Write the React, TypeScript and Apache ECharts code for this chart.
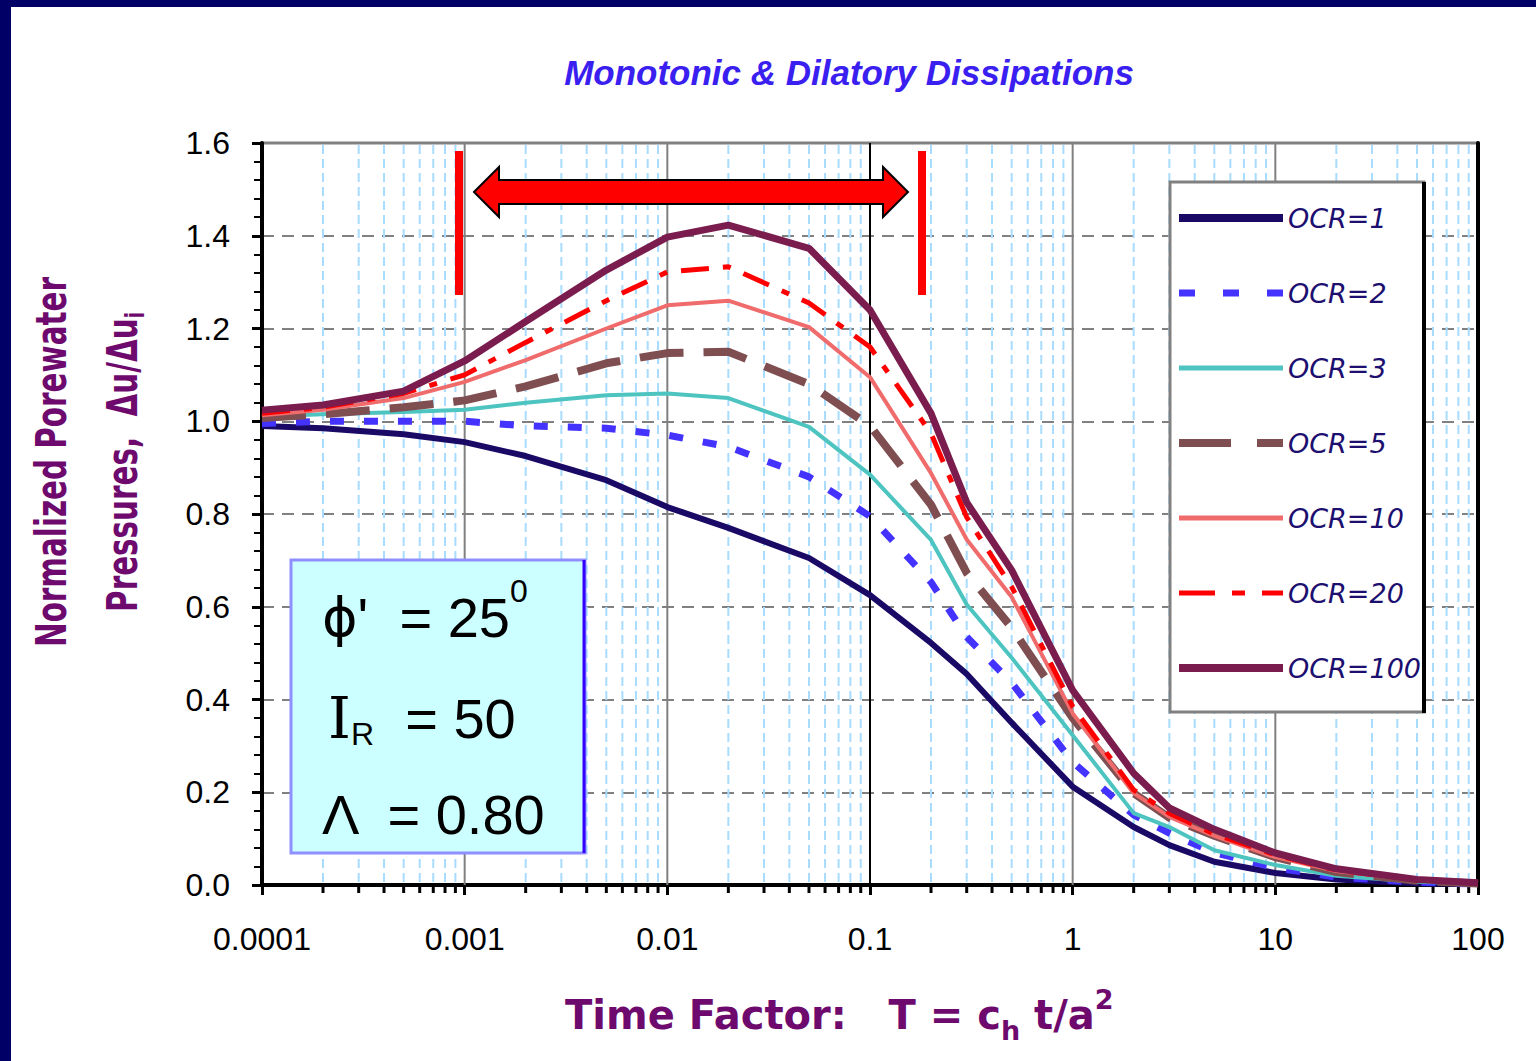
import React, { useEffect, useRef } from "react";
import * as echarts from "echarts";

// ---- data ----
const timeFactor = [0.0001, 0.0002, 0.0005, 0.001, 0.002, 0.005, 0.01, 0.02, 0.05, 0.1, 0.2, 0.3, 0.5, 1, 2, 3, 5, 10, 20, 50, 100];
const ocr1 = [0.99, 0.985, 0.972, 0.955, 0.925, 0.873, 0.815, 0.77, 0.705, 0.625, 0.522, 0.455, 0.35, 0.212, 0.125, 0.086, 0.05, 0.026, 0.012, 0.004, 0.002];
const ocr2 = [0.995, 1.0, 1.0, 1.0, 0.99, 0.985, 0.97, 0.945, 0.88, 0.795, 0.653, 0.535, 0.436, 0.265, 0.151, 0.112, 0.07, 0.037, 0.017, 0.006, 0.002];
const ocr3 = [1.01, 1.015, 1.02, 1.025, 1.04, 1.056, 1.06, 1.05, 0.988, 0.885, 0.744, 0.605, 0.49, 0.323, 0.155, 0.125, 0.075, 0.043, 0.02, 0.007, 0.003];
const ocr5 = [1.007, 1.015, 1.03, 1.045, 1.075, 1.125, 1.147, 1.15, 1.08, 0.99, 0.82, 0.673, 0.555, 0.36, 0.198, 0.145, 0.106, 0.06, 0.028, 0.009, 0.003];
const ocr10 = [1.013, 1.025, 1.05, 1.085, 1.132, 1.2, 1.25, 1.26, 1.203, 1.095, 0.888, 0.745, 0.621, 0.37, 0.198, 0.147, 0.106, 0.06, 0.03, 0.01, 0.004];
const ocr20 = [1.017, 1.03, 1.06, 1.1, 1.17, 1.26, 1.322, 1.333, 1.255, 1.16, 0.974, 0.793, 0.643, 0.385, 0.205, 0.155, 0.11, 0.065, 0.032, 0.011, 0.004];
const ocr100 = [1.024, 1.035, 1.065, 1.13, 1.215, 1.326, 1.397, 1.423, 1.373, 1.24, 1.017, 0.825, 0.679, 0.42, 0.241, 0.166, 0.12, 0.069, 0.035, 0.012, 0.005];

const seriesNames = ["OCR=1", "OCR=2", "OCR=3", "OCR=5", "OCR=10", "OCR=20", "OCR=100"];
const seriesValues = [ocr1, ocr2, ocr3, ocr5, ocr10, ocr20, ocr100];

const xTickLabels = ["0.0001", "0.001", "0.01", "0.1", "1", "10", "100"];
const majorDecadeLines = [0.001, 0.01, 0.1, 1, 10];
const decadeStarts = [0.0001, 0.001, 0.01, 0.1, 1, 10];
const minorMultipliers = [2, 3, 4, 5, 6, 7, 8, 9];

// ---- styles ----
const seriesStyles = [
  { color: "#1a0a66", width: 6, type: "solid" as any },
  { color: "#4433ff", width: 7, type: [14, 20] as any },
  { color: "#4dc4c0", width: 4, type: "solid" as any },
  { color: "#7f4e50", width: 8, type: [44, 20] as any },
  { color: "#f06b6b", width: 4, type: "solid" as any },
  { color: "#ff0000", width: 5, type: [28, 14, 8, 14] as any },
  { color: "#7a1c4e", width: 7, type: "solid" as any },
];
const legendLineStyles = [
  { color: "#1a0a66", width: 8, type: "solid" as any },
  { color: "#4433ff", width: 7, type: [16, 28] as any },
  { color: "#4dc4c0", width: 5, type: "solid" as any },
  { color: "#7f4e50", width: 8, type: [52, 26] as any },
  { color: "#f06b6b", width: 5, type: "solid" as any },
  { color: "#ff0000", width: 5, type: [36, 17, 13, 17] as any },
  { color: "#7a1c4e", width: 8, type: "solid" as any },
];

const purple = "#6e0a6e";

export default function App() {
  const ref = useRef<HTMLDivElement>(null);

  useEffect(() => {
    if (!ref.current) return;
    const chart = echarts.init(ref.current, undefined, { renderer: "svg" });

    const verticalGrid: [number, number][] = [];
    decadeStarts.forEach((d) => minorMultipliers.forEach((m) => verticalGrid.push([d * m, 0])));
    majorDecadeLines.forEach((d) => verticalGrid.push([d, d === 0.1 ? 2 : 1]));

    const option: any = {
      animation: false,
      backgroundColor: "#ffffff",
      grid: {
        left: 262,
        top: 143,
        width: 1216,
        height: 742,
        show: true,
        borderColor: "#808080",
        borderWidth: 3,
        backgroundColor: "transparent",
        outerBoundsMode: "none",
      },
      xAxis: {
        type: "log",
        logBase: 10,
        min: 0.0001,
        max: 100,
        axisLine: { show: true, onZero: false, lineStyle: { color: "#000", width: 4 } },
        axisTick: { show: true, length: 10, lineStyle: { color: "#000", width: 3 } },
        axisLabel: {
          show: true,
          margin: 38,
          fontSize: 32,
          fontFamily: "Liberation Sans",
          color: "#000",
          showMinLabel: true,
          showMaxLabel: true,
          formatter: (v: number) => xTickLabels[Math.round(Math.log10(v)) + 4],
        },
        splitLine: { show: false },
        minorTick: { show: false },
      },
      yAxis: [
        {
          type: "value",
          min: 0,
          max: 1.6,
          interval: 0.2,
          axisLine: { show: true, onZero: false, lineStyle: { color: "#000", width: 4 } },
          axisTick: { show: true, length: 10, lineStyle: { color: "#000", width: 3 } },
          minorTick: { show: true, splitNumber: 5, length: 8, lineStyle: { color: "#000", width: 2 } },
          axisLabel: {
            margin: 32,
            fontSize: 32,
            fontFamily: "Liberation Sans",
            color: "#000",
            formatter: (v: number) => v.toFixed(1),
          },
          splitLine: { show: true, lineStyle: { color: "#808080", width: 2, type: [12, 8] } },
        },
        {
          type: "value",
          min: 0,
          max: 1.6,
          position: "right",
          axisLine: { show: true, onZero: false, lineStyle: { color: "#000", width: 4 } },
          axisTick: { show: false },
          axisLabel: { show: false },
          splitLine: { show: false },
        },
      ],
      legend: {
        orient: "vertical",
        left: 1175,
        top: 203,
        padding: 0,
        itemWidth: 104,
        itemHeight: 14,
        itemGap: 45,
        selectedMode: false,
        z: 20,
        textStyle: {
          fontFamily: "DejaVu Sans",
          fontStyle: "italic",
          fontSize: 27,
          color: "#1c0f70",
          lineHeight: 30,
        },
        itemStyle: { color: "rgba(0,0,0,0)", borderColor: "rgba(0,0,0,0)", borderWidth: 0, opacity: 0 },
        data: seriesNames.map((n, i) => ({ name: n, lineStyle: legendLineStyles[i] })),
      },
      series: [
        {
          type: "custom",
          name: "grid-lines",
          coordinateSystem: "cartesian2d",
          silent: true,
          clip: false,
          z: 1,
          data: verticalGrid,
          renderItem: (_params: any, api: any) => {
            const x = api.value(0);
            const kind = api.value(1);
            const top = api.coord([x, 1.6]);
            const bot = api.coord([x, 0]);
            const children: any[] = [];
            if (kind === 0) {
              children.push({
                type: "line",
                shape: { x1: top[0], y1: top[1] + 2, x2: bot[0], y2: bot[1] - 2 },
                style: { stroke: "#a8dcff", lineWidth: 2, lineDash: [9, 5] },
              });
              children.push({
                type: "line",
                shape: { x1: bot[0], y1: bot[1], x2: bot[0], y2: bot[1] + 8 },
                style: { stroke: "#000", lineWidth: 3 },
              });
            } else {
              children.push({
                type: "line",
                shape: { x1: top[0], y1: top[1], x2: bot[0], y2: bot[1] },
                style: { stroke: kind === 2 ? "#000" : "#808080", lineWidth: 2 },
              });
            }
            return { type: "group", children };
          },
        },
        ...seriesNames.map((n, i) => ({
          type: "line",
          name: n,
          data: timeFactor.map((t, j) => [t, seriesValues[i][j]]),
          symbol: "none",
          showSymbol: false,
          smooth: false,
          z: 3 + i,
          lineStyle: { color: seriesStyles[i].color, width: seriesStyles[i].width, type: seriesStyles[i].type },
          itemStyle: { color: seriesStyles[i].color },
        })),
      ],
      graphic: [
        // page border
        { type: "rect", z: 100, shape: { x: 0, y: 0, width: 11, height: 1061 }, style: { fill: "#000066" } },
        { type: "rect", z: 100, shape: { x: 0, y: 0, width: 1536, height: 7 }, style: { fill: "#000066" } },
        // title
        {
          type: "text",
          z: 50,
          x: 849,
          y: 72,
          style: {
            text: "Monotonic & Dilatory Dissipations",
            fontFamily: "Liberation Sans",
            fontSize: 35,
            fontStyle: "italic",
            fontWeight: "bold",
            fill: "#3a20f0",
            align: "center",
            verticalAlign: "middle",
          },
        },
        // y axis title
        {
          type: "text",
          z: 50,
          x: 52,
          y: 462,
          rotation: Math.PI / 2,
          scaleX: 0.7,
          style: {
            text: "Normalized Porewater",
            fontFamily: "DejaVu Sans",
            fontSize: 42,
            fontWeight: "bold",
            fill: purple,
            align: "center",
            verticalAlign: "middle",
          },
        },
        {
          type: "text",
          z: 50,
          x: 123,
          y: 462,
          rotation: Math.PI / 2,
          scaleX: 0.7,
          style: {
            text: "{b|Pressures,  Δu/Δu}{s|i}",
            fontFamily: "DejaVu Sans",
            fontSize: 42,
            fontWeight: "bold",
            fill: purple,
            align: "center",
            verticalAlign: "middle",
            rich: {
              b: { fontFamily: "DejaVu Sans", fontSize: 42, fontWeight: "bold", fill: purple, lineHeight: 50 },
              s: { fontFamily: "DejaVu Sans", fontSize: 26, fontWeight: "bold", fill: purple, lineHeight: 24, verticalAlign: "bottom" },
            },
          },
        },
        // x axis title
        {
          type: "text",
          z: 50,
          x: 565,
          y: 1015,
          style: {
            text: "{b|Time Factor:   T = c}{s|h}{b| t/a}{p|2}",
            fontFamily: "DejaVu Sans",
            fontSize: 40,
            fontWeight: "bold",
            fill: purple,
            align: "left",
            verticalAlign: "middle",
            rich: {
              b: { fontFamily: "DejaVu Sans", fontSize: 40, fontWeight: "bold", fill: purple, lineHeight: 58 },
              s: { fontFamily: "DejaVu Sans", fontSize: 27, fontWeight: "bold", fill: purple, lineHeight: 24, verticalAlign: "bottom" },
              p: { fontFamily: "DejaVu Sans", fontSize: 27, fontWeight: "bold", fill: purple, lineHeight: 24, verticalAlign: "top" },
            },
          },
        },
        // info box
        {
          type: "rect",
          z: 10,
          shape: { x: 291, y: 560, width: 294, height: 293 },
          style: { fill: "#ccffff", stroke: "#8f8fff", lineWidth: 3 },
        },
        {
          type: "line",
          z: 11,
          shape: { x1: 584, y1: 560, x2: 584, y2: 853 },
          style: { stroke: "#3300ff", lineWidth: 3 },
        },
        {
          type: "text",
          z: 12,
          x: 322,
          y: 617,
          style: {
            text: "{p|ϕ}{b|'  = 25}{s|0}",
            fill: "#000",
            align: "left",
            verticalAlign: "middle",
            rich: {
              p: { fontFamily: "DejaVu Sans", fontSize: 54, fill: "#000", lineHeight: 84 },
              b: { fontFamily: "Liberation Sans", fontSize: 56, fill: "#000", lineHeight: 84 },
              s: { fontFamily: "Liberation Sans", fontSize: 32, fill: "#000", lineHeight: 34, verticalAlign: "top" },
            },
          },
        },
        {
          type: "text",
          z: 12,
          x: 328,
          y: 718,
          style: {
            text: "{i|I}{r|R}{b|  = 50}",
            fill: "#000",
            align: "left",
            verticalAlign: "middle",
            rich: {
              i: { fontFamily: "DejaVu Serif", fontSize: 58, fill: "#000", lineHeight: 64 },
              r: { fontFamily: "Liberation Sans", fontSize: 32, fill: "#000", lineHeight: 24, verticalAlign: "bottom" },
              b: { fontFamily: "Liberation Sans", fontSize: 56, fill: "#000", lineHeight: 64 },
            },
          },
        },
        {
          type: "text",
          z: 12,
          x: 322,
          y: 814,
          style: {
            text: "Λ  = 0.80",
            fontFamily: "Liberation Sans",
            fontSize: 56,
            fill: "#000",
            align: "left",
            verticalAlign: "middle",
          },
        },
        // legend box
        {
          type: "rect",
          z: 10,
          shape: { x: 1170, y: 182, width: 254, height: 530 },
          style: { fill: "#ffffff", stroke: "#808080", lineWidth: 3 },
        },
        {
          type: "line",
          z: 11,
          shape: { x1: 1424, y1: 182, x2: 1424, y2: 713 },
          style: { stroke: "#000", lineWidth: 4 },
        },
        // arrow and bars
        {
          type: "polygon",
          z: 15,
          shape: {
            points: [
              [474, 192], [499, 167], [499, 180], [883, 180], [883, 167],
              [908, 192], [883, 217], [883, 204], [499, 204], [499, 217],
            ],
          },
          style: { fill: "#ff0000", stroke: "#000", lineWidth: 2 },
        },
        { type: "rect", z: 15, shape: { x: 455, y: 151, width: 8, height: 144 }, style: { fill: "#ff0000" } },
        { type: "rect", z: 15, shape: { x: 918, y: 151, width: 8, height: 144 }, style: { fill: "#ff0000" } },
      ],
    };

    chart.setOption(option);
    return () => chart.dispose();
  }, []);

  return (
    <div
      ref={ref}
      style={{ position: "fixed", left: 0, top: 0, width: 1536, height: 1061, background: "#fff" }}
    />
  );
}
